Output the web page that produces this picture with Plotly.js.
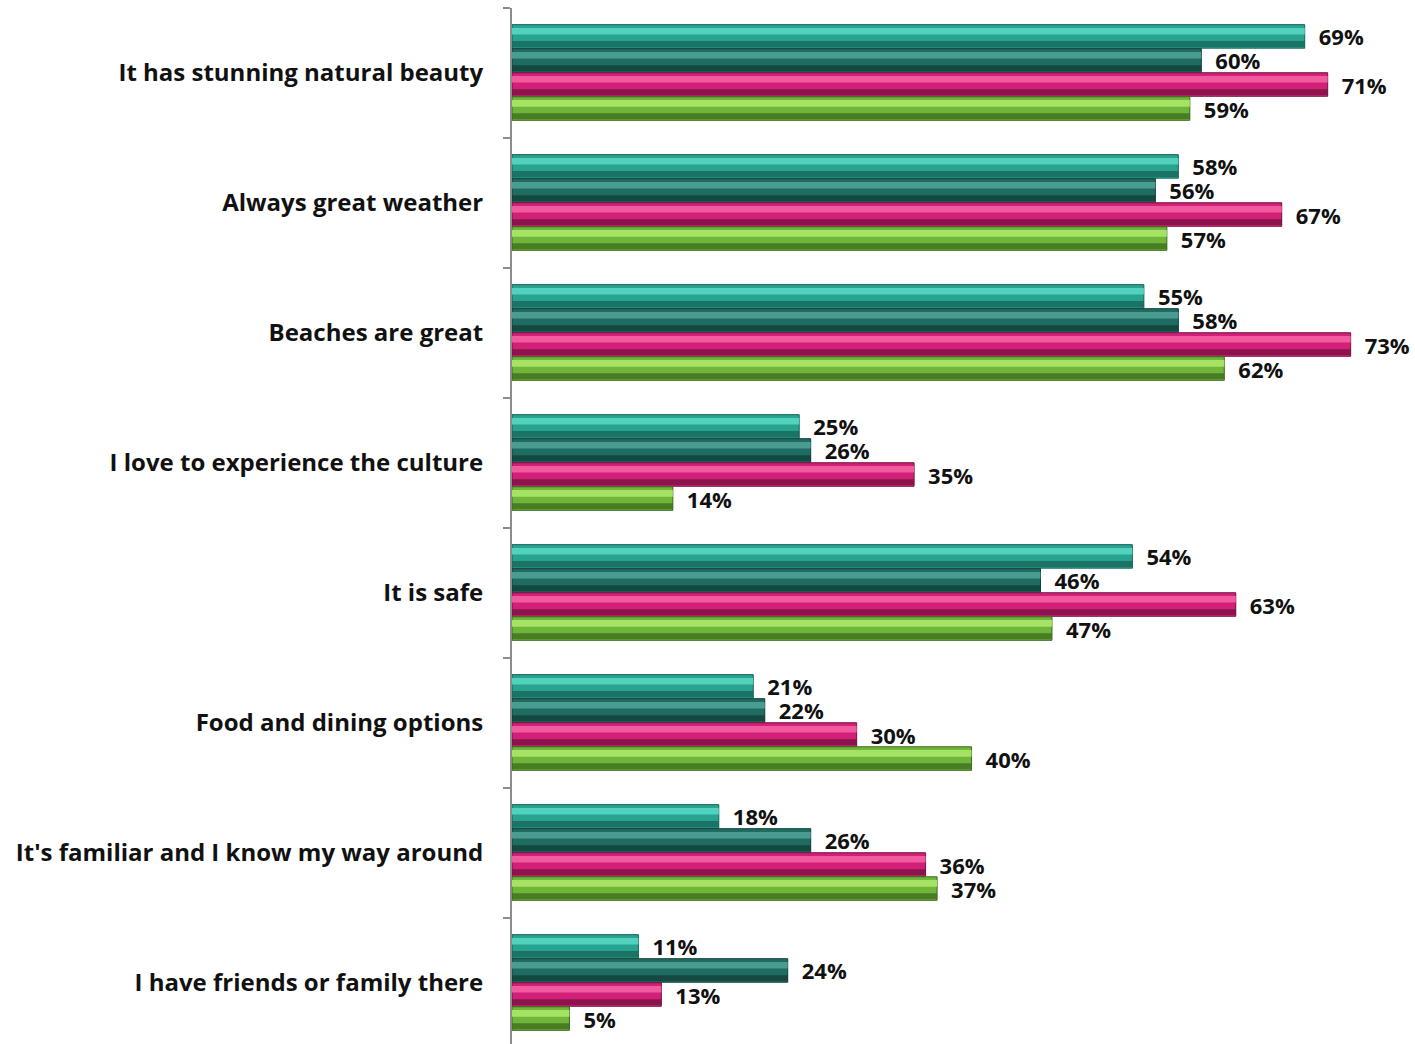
<!DOCTYPE html>
<html>
<head>
<meta charset="utf-8">
<script src="https://cdn.plot.ly/plotly-3.0.1.min.js"></script>
<style>html,body{margin:0;padding:0;background:#fff;overflow:hidden;}#chart{width:1415px;height:1048px;}</style>
</head>
<body>
<div id="chart"></div>
<script>
const categories = [
  "It has stunning natural beauty",
  "Always great weather",
  "Beaches are great",
  "I love to experience the culture",
  "It is safe",
  "Food and dining options",
  "It's familiar and I know my way around",
  "I have friends or family there"
];
const series1 = [69, 58, 55, 25, 54, 21, 18, 11];
const series2 = [60, 56, 58, 26, 46, 22, 26, 24];
const series3 = [71, 67, 73, 35, 63, 30, 36, 13];
const series4 = [59, 57, 62, 14, 47, 40, 37, 5];
const seriesNames = ["Series 1", "Series 2", "Series 3", "Series 4"];

const allSeries = [series1, series2, series3, series4];
const styles = [
  {base: "#27a390", hi: "#52d2be", lo: "#176356"},
  {base: "#1f6d62", hi: "#4b9c90", lo: "#103d36"},
  {base: "#d21f78", hi: "#f25a9f", lo: "#74113f"},
  {base: "#6fb63a", hi: "#a6e263", lo: "#3b6a1c"}
];
const FONT = "'Open Sans', 'Noto Sans', sans-serif";
const barW = 0.181;
const offsets = [-0.372, -0.187, -0.002, 0.183];

const traces = [];
allSeries.forEach((vals, i) => {
  const st = styles[i];
  traces.push({
    type: "bar", orientation: "h", name: seriesNames[i],
    x: vals, y: categories,
    width: barW, offset: offsets[i],
    marker: {color: st.base, line: {color: st.lo, width: 1}},
    text: vals.map(v => "\u2002" + v + "%"),
    textposition: "outside", cliponaxis: false, constraintext: "none",
    textfont: {family: FONT, size: 22, color: "#111", weight: "bold"},
    hoverinfo: "skip", showlegend: false
  });
  traces.push({
    type: "bar", orientation: "h", name: seriesNames[i] + " hi",
    x: vals, y: categories,
    width: barW * 0.28, offset: offsets[i] + barW * 0.14,
    marker: {color: st.hi, line: {width: 0}},
    hoverinfo: "skip", showlegend: false
  });
  traces.push({
    type: "bar", orientation: "h", name: seriesNames[i] + " lo",
    x: vals, y: categories,
    width: barW * 0.25, offset: offsets[i] + barW * 0.7,
    marker: {color: st.lo, opacity: 0.75, line: {width: 0}},
    hoverinfo: "skip", showlegend: false
  });
});

const layout = {
  width: 1415, height: 1048,
  margin: {l: 512, r: 0, t: 8, b: 0, pad: 0},
  paper_bgcolor: "#fff", plot_bgcolor: "#fff",
  barmode: "overlay",
  showlegend: false,
  font: {family: FONT, color: "#111"},
  xaxis: {range: [0, 78.6], visible: false, fixedrange: true},
  yaxis: {
    type: "category", autorange: "reversed",
    showline: true, linecolor: "#8c8c8c", linewidth: 2,
    ticks: "outside", tickson: "boundaries", ticklen: 7, tickcolor: "#8c8c8c", tickwidth: 1.5,
    ticklabelstandoff: 22,
    tickfont: {family: FONT, size: 24, color: "#111", weight: "bold"},
    showgrid: false, zeroline: false, fixedrange: true
  }
};

Plotly.newPlot("chart", traces, layout, {displayModeBar: false, staticPlot: true});
</script>
</body>
</html>
